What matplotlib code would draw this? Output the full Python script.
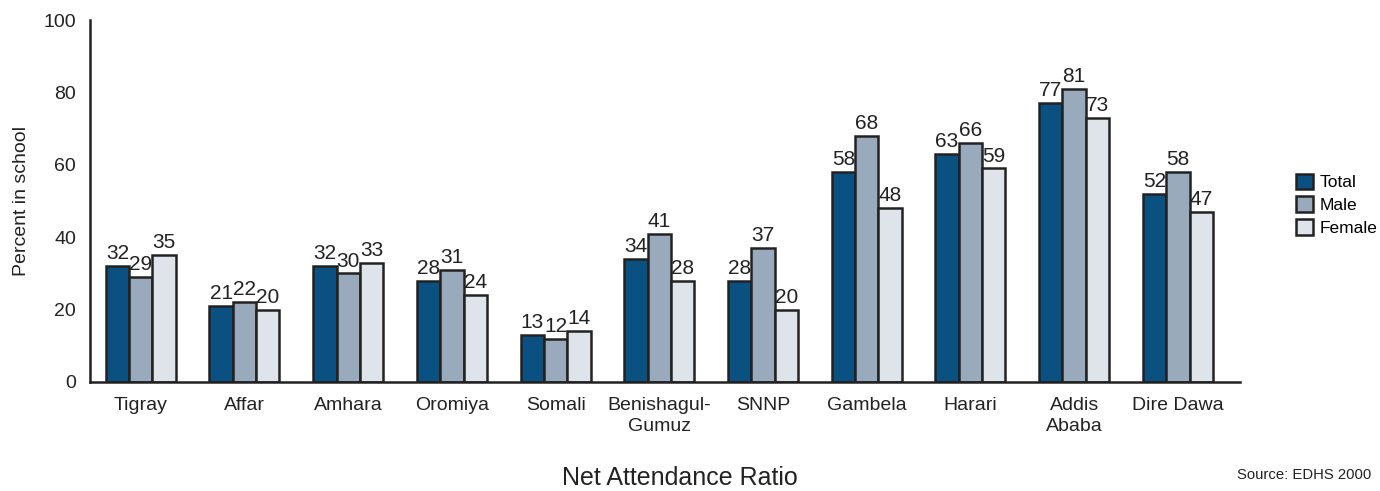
import numpy as np
import matplotlib.pyplot as plt

plt.rcParams['font.family'] = ['Liberation Sans', 'DejaVu Sans']

regions = ["Tigray", "Affar", "Amhara", "Oromiya", "Somali", "Benishagul-\nGumuz",
           "SNNP", "Gambela", "Harari", "Addis\nAbaba", "Dire Dawa"]
total = [32, 21, 32, 28, 13, 34, 28, 58, 63, 77, 52]
male = [29, 22, 30, 31, 12, 41, 37, 68, 66, 81, 58]
female = [35, 20, 33, 24, 14, 28, 20, 48, 59, 73, 47]
series_names = ["Total", "Male", "Female"]
colors = ["#0a5080", "#9aaabd", "#dfe3ea"]

fig = plt.figure(figsize=(13.8, 4.91), dpi=100)
ax = fig.add_axes([0.0652, 0.222, 0.8334, 0.737])

x = np.arange(len(regions))
w = 0.225
for i, (vals, name, c) in enumerate(zip([total, male, female], series_names, colors)):
    pos = x + (i - 1) * w
    ax.bar(pos, vals, width=w, color=c, edgecolor="#222222", linewidth=1.8, label=name)
    for p, v in zip(pos, vals):
        ax.text(p, v + 0.8, str(v), ha="center", va="bottom", fontsize=15, color="#222222")

ax.set_ylim(0, 100)
ax.set_xlim(-0.49, 10.6)
ax.set_yticks([0, 20, 40, 60, 80, 100])
ax.set_xticks(x)
ax.set_xticklabels(regions, fontsize=14, color="#222222", va="top", linespacing=1.25)
ax.tick_params(axis="both", length=0, labelsize=14, colors="#222222")
ax.tick_params(axis="y", pad=10)
ax.tick_params(axis="x", pad=11)
for s in ["top", "right"]:
    ax.spines[s].set_visible(False)
for s in ["left", "bottom"]:
    ax.spines[s].set_linewidth(1.8)
    ax.spines[s].set_color("#222222")
ax.set_ylabel("Percent in school", fontsize=14, color="#222222", labelpad=10)

ax.legend(loc="center left", bbox_to_anchor=(1.035, 0.49), frameon=False, fontsize=12.5,
          handlelength=1.0, handleheight=1.0, handletextpad=0.35, labelspacing=0.35)

fig.text(0.493, 0.002, "Net Attendance Ratio", ha="center", va="bottom", fontsize=18, color="#222222")
fig.text(0.994, 0.018, "Source: EDHS 2000", ha="right", va="bottom", fontsize=10.7, color="#222222")

fig.savefig("out.png", dpi=100)
